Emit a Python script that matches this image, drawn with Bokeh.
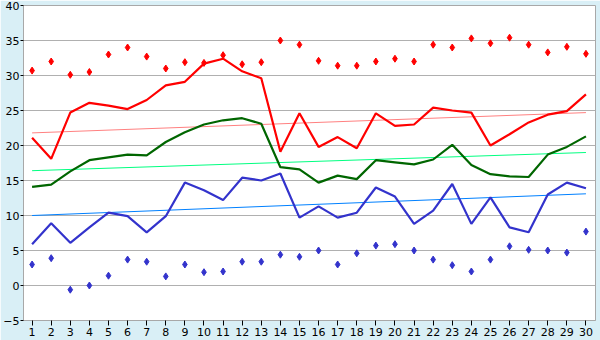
from bokeh.plotting import figure
from bokeh.models import FixedTicker
from bokeh.embed import file_html
from bokeh.resources import INLINE

days = list(range(1, 31))

max_avg = [21.1, 18.1, 24.7, 26.1, 25.7, 25.2, 26.5, 28.6, 29.1, 31.7,
           32.4, 30.6, 29.6, 19.1, 24.6, 19.8, 21.2, 19.6, 24.6, 22.8,
           23.0, 25.4, 25.0, 24.7, 20.0, 21.6, 23.3, 24.4, 24.9, 27.3]
max_rec = [30.7, 32.0, 30.1, 30.5, 33.0, 34.0, 32.7, 31.0, 31.9, 31.8,
           32.9, 31.6, 31.9, 35.0, 34.4, 32.1, 31.4, 31.4, 32.0, 32.4,
           32.0, 34.4, 34.0, 35.3, 34.6, 35.4, 34.4, 33.3, 34.1, 33.1]
mean_avg = [14.1, 14.4, 16.3, 17.9, 18.3, 18.7, 18.6, 20.5, 21.9, 23.0,
            23.6, 23.9, 23.1, 16.9, 16.6, 14.7, 15.7, 15.2, 17.9, 17.6,
            17.3, 18.0, 20.1, 17.2, 15.9, 15.6, 15.5, 18.7, 19.8, 21.3]
min_avg = [5.9, 8.9, 6.1, 8.3, 10.4, 9.9, 7.6, 9.9, 14.7, 13.6,
           12.2, 15.4, 15.0, 16.0, 9.7, 11.3, 9.7, 10.4, 14.0, 12.7,
           8.8, 10.7, 14.5, 8.8, 12.6, 8.3, 7.6, 13.0, 14.7, 13.9]
min_rec = [3.0, 3.9, -0.6, 0.0, 1.4, 3.7, 3.4, 1.3, 3.0, 1.9,
           2.0, 3.4, 3.4, 4.4, 4.1, 5.0, 3.0, 4.6, 5.7, 5.9,
           5.0, 3.7, 2.9, 2.0, 3.7, 5.6, 5.1, 5.0, 4.7, 7.7]

trend_x = [1, 30]
max_trend = [21.8, 24.7]
mean_trend = [16.4, 19.0]
min_trend = [10.0, 13.1]

y_ticks = [-5, 0, 5, 10, 15, 20, 25, 30, 35, 40]

p = figure(width=600, height=340, output_backend="svg", toolbar_location=None,
           x_range=(0.55, 30.5), y_range=(-5, 40),
           background_fill_color="white", border_fill_color="#d9eff6",
           min_border_left=20, min_border_right=5, min_border_top=5, min_border_bottom=20)
p.outline_line_color = "#a8a8a8"
p.xgrid.visible = False
p.ygrid.grid_line_color = "#b0b0b0"
p.ygrid.grid_line_width = 1

for ax in (p.xaxis[0], p.yaxis[0]):
    ax.axis_line_color = "#a8a8a8"
    ax.major_tick_line_color = "black"
    ax.minor_tick_line_color = None
    ax.major_tick_in = 0
    ax.major_label_text_font = "DejaVu Sans"
    ax.major_label_text_font_size = "11px"
    ax.major_label_text_color = "black"

p.xaxis.ticker = FixedTicker(ticks=days)
p.yaxis.ticker = FixedTicker(ticks=y_ticks)
p.xaxis.major_tick_out = 5
p.xaxis.major_label_standoff = 2
p.yaxis.major_tick_out = 3
p.yaxis.major_label_standoff = 1

p.line(trend_x, max_trend, color="#ff8080", line_width=1)
p.line(trend_x, mean_trend, color="#00ff80", line_width=1)
p.line(trend_x, min_trend, color="#0080ff", line_width=1)

p.line(days, max_avg, color="#ff0000", line_width=2.2)
p.line(days, mean_avg, color="#006600", line_width=2.2)
p.line(days, min_avg, color="#3333cc", line_width=2.2)

p.scatter(days, max_rec, marker="diamond", size=7, color="#ff0000")
p.scatter(days, min_rec, marker="diamond", size=7, color="#3333cc")

open("out.html", "w").write(file_html(p, INLINE))
